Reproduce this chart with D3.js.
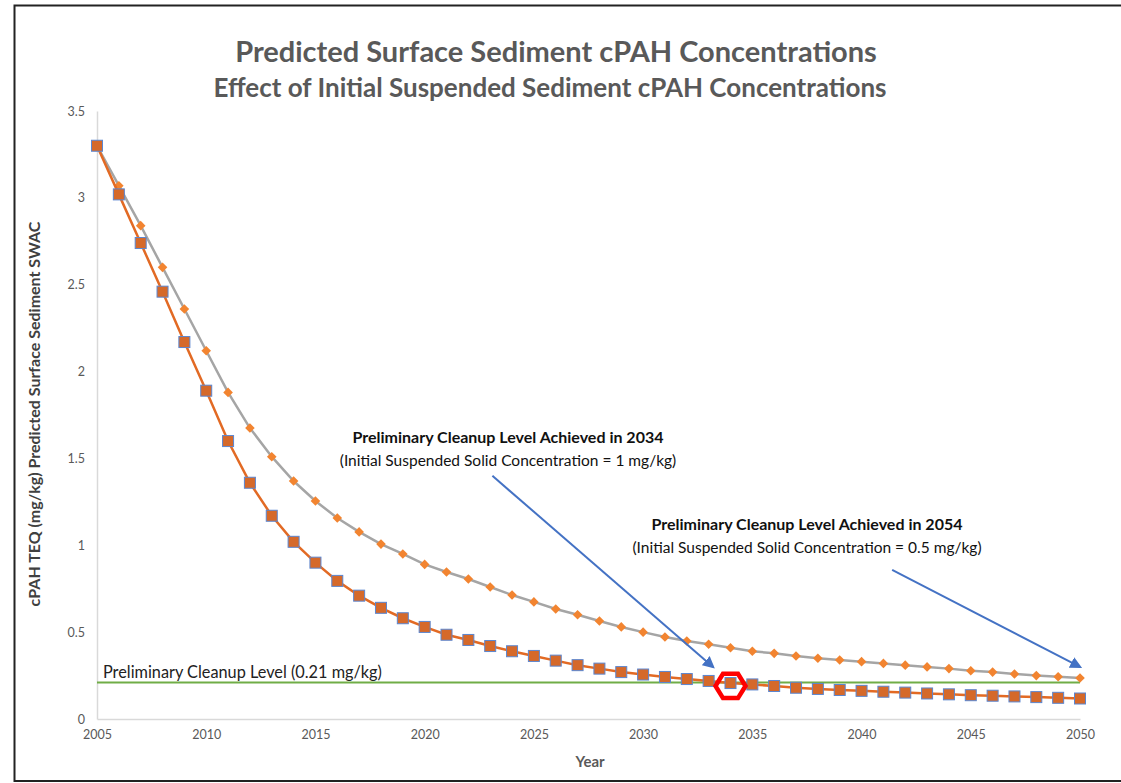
<!DOCTYPE html>
<html>
<head>
<meta charset="utf-8">
<script src="https://cdn.jsdelivr.net/npm/d3@7"></script>
<style>
  body { margin: 0; background: #fff; }
  svg { display: block; font-family: Lato, "Open Sans", sans-serif; }
</style>
</head>
<body>
<svg width="1121" height="783"></svg>
<script>
// years 2005..2050
const years = d3.range(2005, 2051);

// initial suspended solid 1 mg/kg (squares, orange line)
const sqValues = [3.30, 3.02, 2.74, 2.46, 2.17, 1.89, 1.60, 1.36, 1.17, 1.02,
    0.90, 0.795, 0.71, 0.64, 0.58, 0.53, 0.485, 0.455, 0.42, 0.39,
    0.363, 0.336, 0.31, 0.29, 0.27, 0.256, 0.242, 0.23, 0.219, 0.207,
    0.199, 0.19, 0.18, 0.173, 0.167, 0.162, 0.157, 0.152, 0.147, 0.142,
    0.137, 0.134, 0.13, 0.126, 0.122, 0.118];

// initial suspended solid 0.5 mg/kg (diamonds, gray line)
const dmValues = [3.30, 3.07, 2.84, 2.60, 2.36, 2.12, 1.88, 1.675, 1.51, 1.37,
    1.255, 1.157, 1.077, 1.007, 0.95, 0.89, 0.846, 0.806, 0.76, 0.714,
    0.674, 0.633, 0.60, 0.564, 0.53, 0.50, 0.472, 0.449, 0.43, 0.41,
    0.39, 0.378, 0.363, 0.35, 0.34, 0.33, 0.32, 0.31, 0.30, 0.29,
    0.278, 0.27, 0.259, 0.25, 0.243, 0.236];

const cleanupLevel = 0.21;
const yTicks = [0, 0.5, 1, 1.5, 2, 2.5, 3, 3.5];
const xTicks = [2005, 2010, 2015, 2020, 2025, 2030, 2035, 2040, 2045, 2050];

let svg = d3.select('svg');

// outer border
svg.append('rect')
    .attr('x', 14.5).attr('y', 5.5)
    .attr('width', 1130).attr('height', 775.5)
    .attr('fill', 'none')
    .attr('stroke', '#222')
    .attr('stroke-width', 2);

const x = d3.scaleLinear().domain([2005, 2050]).range([97, 1080]);
const y = d3.scaleLinear().domain([0, 3.5]).range([719, 111]);

// titles
svg.append('text')
    .attr('x', 556).attr('y', 62)
    .attr('text-anchor', 'middle')
    .attr('font-size', 29).attr('font-weight', 'bold')
    .attr('fill', '#595959')
    .text('Predicted Surface Sediment cPAH Concentrations');
svg.append('text')
    .attr('x', 550).attr('y', 97)
    .attr('text-anchor', 'middle')
    .attr('font-size', 26).attr('font-weight', 'bold')
    .attr('fill', '#595959')
    .text('Effect of Initial Suspended Sediment cPAH Concentrations');

// axes
const xAxis = d3.axisBottom(x).tickValues(xTicks).tickFormat(d3.format('d')).tickSize(0).tickPadding(11);
const yAxis = d3.axisLeft(y).tickValues(yTicks).tickFormat(d => d).tickSize(0).tickPadding(12);

let gx = svg.append('g').attr('transform', 'translate(0,719)').call(xAxis);
let gy = svg.append('g').attr('transform', 'translate(97,0)').call(yAxis);
[gx, gy].forEach(g => {
    g.select('.domain').attr('stroke', '#d9d9d9').attr('stroke-width', 1.5);
    g.selectAll('text').attr('fill', '#595959').attr('font-size', 12.5).attr('font-family', 'Lato, sans-serif');
});

svg.append('text')
    .attr('x', 590).attr('y', 767)
    .attr('text-anchor', 'middle')
    .attr('font-size', 15).attr('font-weight', 'bold')
    .attr('fill', '#595959')
    .text('Year');

svg.append('text')
    .attr('transform', 'translate(40,414) rotate(-90)')
    .attr('text-anchor', 'middle')
    .attr('font-size', 16).attr('font-weight', 'bold')
    .attr('fill', '#404040')
    .text('cPAH TEQ (mg/kg) Predicted Surface Sediment SWAC');

// cleanup level line
svg.append('line')
    .attr('x1', x(2005)).attr('x2', x(2050))
    .attr('y1', y(cleanupLevel)).attr('y2', y(cleanupLevel))
    .attr('stroke', '#70ad47').attr('stroke-width', 2);
svg.append('text')
    .attr('x', 103).attr('y', y(cleanupLevel) - 5)
    .attr('font-size', 16.3).attr('fill', '#222')
    .text('Preliminary Cleanup Level (0.21 mg/kg)');

const line = d3.line().x((d, i) => x(years[i])).y(d => y(d));

// 0.5 mg/kg series
svg.append('path').datum(dmValues)
    .attr('d', line).attr('fill', 'none')
    .attr('stroke', '#a5a5a5').attr('stroke-width', 2.5);
svg.append('g').selectAll('rect').data(dmValues).join('rect')
    .attr('x', -3.4).attr('y', -3.4)
    .attr('width', 6.8).attr('height', 6.8)
    .attr('transform', (d, i) => `translate(${x(years[i])},${y(d)}) rotate(45)`)
    .attr('fill', '#f28430');

// 1 mg/kg series
svg.append('path').datum(sqValues)
    .attr('d', line).attr('fill', 'none')
    .attr('stroke', '#e26a24').attr('stroke-width', 2.5);
svg.append('g').selectAll('rect').data(sqValues).join('rect')
    .attr('x', (d, i) => x(years[i]) - 5.5)
    .attr('y', d => y(d) - 5.5)
    .attr('width', 11).attr('height', 11)
    .attr('fill', '#d5692a')
    .attr('stroke', '#5b86d0').attr('stroke-width', 1);

// red hexagon at 2034
const hx = x(2034), hy = y(0.19);
const hexPts = d3.range(6).map(k => {
    const a = Math.PI / 3 * k;
    return [hx + 15 * Math.cos(a), hy + 14 * Math.sin(a)];
});
svg.append('polygon')
    .attr('points', hexPts.map(p => p.join(',')).join(' '))
    .attr('fill', 'none')
    .attr('stroke', '#ff0000').attr('stroke-width', 4.5);

// annotation arrows
svg.append('defs').append('marker')
    .attr('id', 'arrow')
    .attr('viewBox', '0 0 10 10')
    .attr('refX', 8).attr('refY', 5)
    .attr('markerWidth', 6).attr('markerHeight', 6)
    .attr('orient', 'auto')
    .append('path').attr('d', 'M0,0 L10,5 L0,10 z').attr('fill', '#4472c4');

const arrows = [
    { x1: 2023.1, y1: 1.40, x2: 2033.2, y2: 0.30 },
    { x1: 2041.4, y1: 0.858, x2: 2050, y2: 0.30 }
];
svg.append('g').selectAll('line').data(arrows).join('line')
    .attr('x1', d => x(d.x1)).attr('y1', d => y(d.y1))
    .attr('x2', d => x(d.x2)).attr('y2', d => y(d.y2))
    .attr('stroke', '#4472c4').attr('stroke-width', 2)
    .attr('marker-end', 'url(#arrow)');

const notes = [
    { cx: 508, cy: 443, bold: 'Preliminary Cleanup Level Achieved in 2034', sub: '(Initial Suspended Solid Concentration = 1 mg/kg)' },
    { cx: 807, cy: 530, bold: 'Preliminary Cleanup Level Achieved in 2054', sub: '(Initial Suspended Solid Concentration = 0.5 mg/kg)' }
];
notes.forEach(n => {
    svg.append('text')
        .attr('x', n.cx).attr('y', n.cy)
        .attr('text-anchor', 'middle')
        .attr('font-size', 16).attr('font-weight', 'bold').attr('fill', '#111')
        .text(n.bold);
    svg.append('text')
        .attr('x', n.cx).attr('y', n.cy + 23)
        .attr('text-anchor', 'middle')
        .attr('font-size', 15.5).attr('fill', '#111')
        .text(n.sub);
});
</script>
</body>
</html>
